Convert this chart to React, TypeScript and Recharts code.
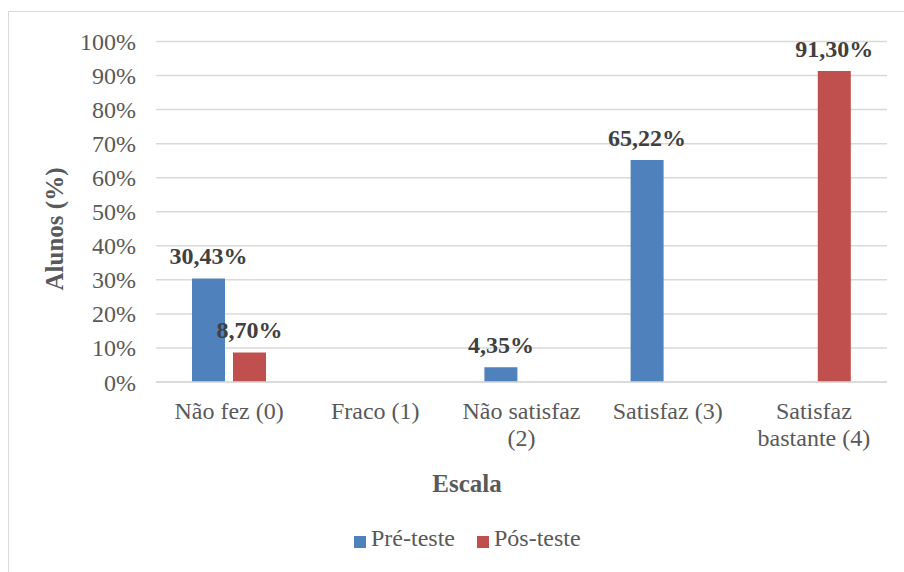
import { BarChart, Bar, XAxis, YAxis, CartesianGrid, LabelList } from 'recharts';

const categories = ['Não fez (0)', 'Fraco (1)', 'Não satisfaz\n(2)', 'Satisfaz (3)', 'Satisfaz\nbastante (4)'];
const preTeste = [30.43, 0, 4.35, 65.22, 0];
const posTeste = [8.7, 0, 0, 0, 91.3];
const yTicks = [0, 10, 20, 30, 40, 50, 60, 70, 80, 90, 100];
const seriesNames = ['Pré-teste', 'Pós-teste'];
const seriesColors = ['#4F81BD', '#C0504D'];

const FONT = '"Liberation Serif", "Times New Roman", serif';
const TEXT = '#595959';

const data = categories.map((name, i) => ({ name, pre: preTeste[i], pos: posTeste[i] }));

const fmtPct = (v: number) => v.toFixed(2).replace('.', ',') + '%';

// category names may carry a line break
const CategoryTick = ({ x, y, payload }: any) => {
  const lines = String(payload.value).split('\n');
  return (
    <text x={x} y={y} textAnchor="middle" fill={TEXT} fontSize={24} fontFamily={FONT}>
      {lines.map((l, i) => (
        <tspan key={i} x={x} dy={i === 0 ? '0.71em' : 27}>{l}</tspan>
      ))}
    </text>
  );
};

// zero-height bars get no label
const ValueLabel = ({ x, y, width, value }: any) => {
  if (!value) return null;
  return (
    <text x={x + width / 2} y={y - 14} textAnchor="middle" fill="#404040"
      fontSize={24} fontWeight="bold" fontFamily={FONT}>
      {fmtPct(value)}
    </text>
  );
};

export default function App() {
  return (
    <div style={{ position: 'relative', width: 904, height: 572, background: '#fff', overflow: 'hidden', fontFamily: FONT }}>
      <style>{'body{margin:0;overflow:hidden}'}</style>
      <div style={{
        position: 'absolute', left: 8, top: 11, right: 0, bottom: 0,
        borderLeft: '1.5px solid #d9d9d9', borderTop: '1.5px solid #d9d9d9',
      }} />
      <BarChart width={904} height={572} data={data}
        margin={{ top: 41.5, right: 17, left: 0, bottom: 0 }}
        barSize={33} barGap={8}>
        <CartesianGrid vertical={false} stroke="#d9d9d9" strokeWidth={1.5} />
        <XAxis dataKey="name" height={190} tick={<CategoryTick />} tickLine={false}
          tickMargin={14} axisLine={{ stroke: '#d9d9d9', strokeWidth: 1.5 }} interval={0} />
        <YAxis width={156} domain={[0, 100]} ticks={yTicks} tickLine={false} axisLine={false}
          tickMargin={14} tickFormatter={(v) => `${v}%`}
          tick={{ fill: TEXT, fontSize: 24, fontFamily: FONT }} />
        <Bar dataKey="pre" name={seriesNames[0]} fill={seriesColors[0]} isAnimationActive={false}>
          <LabelList dataKey="pre" content={<ValueLabel />} />
        </Bar>
        <Bar dataKey="pos" name={seriesNames[1]} fill={seriesColors[1]} isAnimationActive={false}>
          <LabelList dataKey="pos" content={<ValueLabel />} />
        </Bar>
        <text x={63} y={229} transform="rotate(-90, 63, 229)" textAnchor="middle"
          fill={TEXT} fontSize={25} fontWeight="bold" fontFamily={FONT}>
          Alunos (%)
        </text>
        <text x={467} y={492} textAnchor="middle" fill={TEXT} fontSize={25}
          fontWeight="bold" fontFamily={FONT}>
          Escala
        </text>
      </BarChart>
      <div style={{
        position: 'absolute', left: 354, top: 525, display: 'flex', alignItems: 'flex-start',
        fontFamily: FONT, fontSize: 24, lineHeight: '27px', color: TEXT,
      }}>
        {seriesNames.map((n, i) => (
          <div key={n} style={{ display: 'flex', alignItems: 'flex-start', marginRight: 22 }}>
            <span style={{ width: 12, height: 12, background: seriesColors[i], marginTop: 11, marginRight: 5 }} />
            <span>{n}</span>
          </div>
        ))}
      </div>
    </div>
  );
}
